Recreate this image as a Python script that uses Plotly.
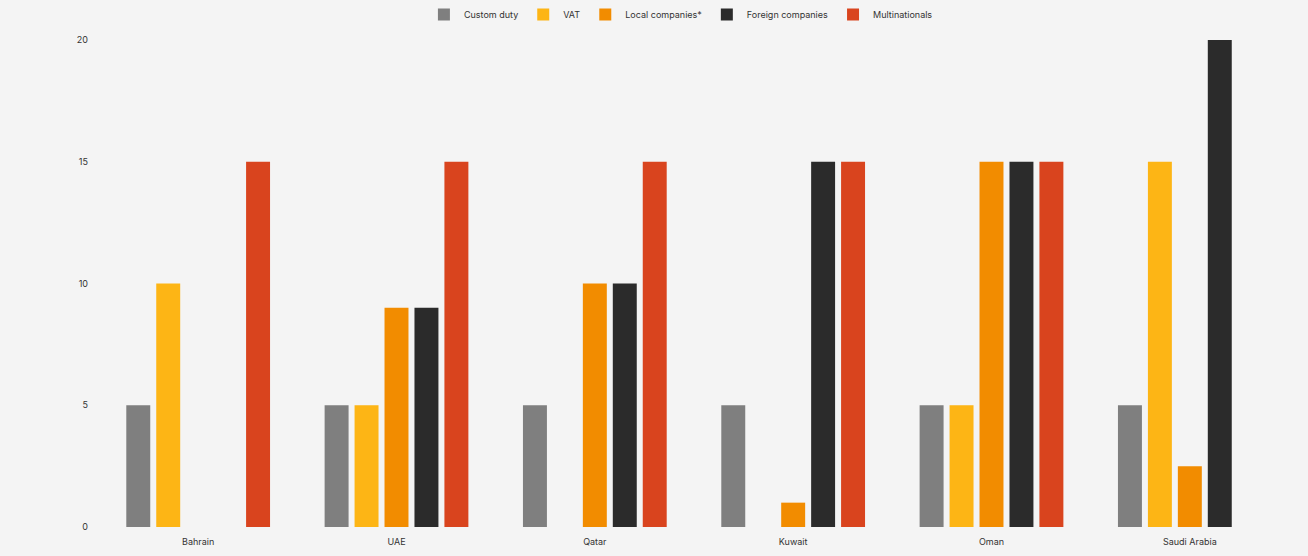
import plotly.graph_objects as go

countries = ["Bahrain", "UAE", "Qatar", "Kuwait", "Oman", "Saudi Arabia"]
custom_duty = [5, 5, 5, 5, 5, 5]
vat = [10, 5, 0, 0, 5, 15]
local_companies = [0, 9, 10, 1, 15, 2.5]
foreign_companies = [0, 9, 10, 15, 15, 20]
multinationals = [15, 15, 15, 15, 15, 0]

series = [
    ("Custom duty", custom_duty, "#7f7f7f"),
    ("VAT", vat, "#FDB515"),
    ("Local companies*", local_companies, "#F28C00"),
    ("Foreign companies", foreign_companies, "#2b2b2b"),
    ("Multinationals", multinationals, "#D9441E"),
]

fig = go.Figure()
for name, vals, color in series:
    fig.add_trace(go.Bar(name=name, x=countries, y=vals, marker_color=color,
                         marker_line_width=0))

bg = "#f4f4f4"
fig.update_layout(
    width=1308, height=556,
    barmode="group", bargap=0.245, bargroupgap=0.2,
    paper_bgcolor=bg, plot_bgcolor=bg,
    margin=dict(l=99, r=19, t=40, b=29, autoexpand=False),
    font=dict(family="Inter, Liberation Sans, sans-serif", size=9, color="#333333"),
    legend=dict(orientation="h", x=0.489, xanchor="center", y=1, yanchor="top",
                yref="container", font=dict(size=9), bgcolor="rgba(0,0,0,0)",
                itemwidth=30, tracegroupgap=0),
    xaxis=dict(showgrid=False, showline=False, ticks="", tickfont=dict(size=9),
               ticklabelstandoff=8),
    yaxis=dict(range=[0, 20], tickvals=[0, 5, 10, 15, 20], showgrid=False,
               zeroline=False, showline=False, ticks="", ticklabelstandoff=10,
               tickfont=dict(size=9)),
)

fig.write_html("out.html")
